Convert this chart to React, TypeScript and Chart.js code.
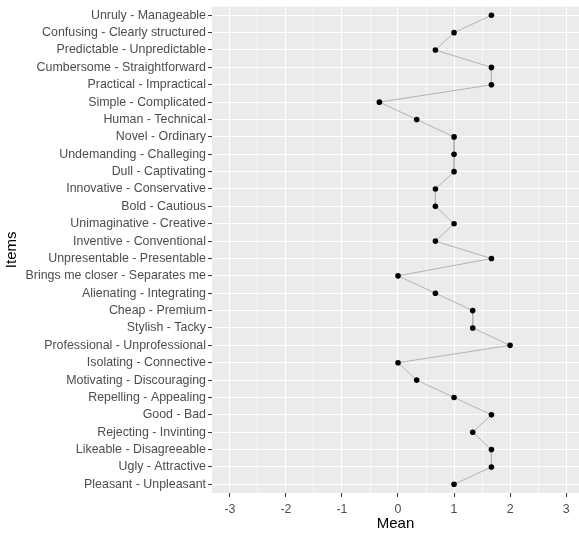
import React, { useEffect, useRef } from "react";
import { Chart, registerables } from "chart.js";

Chart.register(...registerables);

const items = [
  "Unruly - Manageable",
  "Confusing - Clearly structured",
  "Predictable - Unpredictable",
  "Cumbersome - Straightforward",
  "Practical - Impractical",
  "Simple - Complicated",
  "Human - Technical",
  "Novel - Ordinary",
  "Undemanding - Challeging",
  "Dull - Captivating",
  "Innovative - Conservative",
  "Bold - Cautious",
  "Unimaginative - Creative",
  "Inventive - Conventional",
  "Unpresentable - Presentable",
  "Brings me closer - Separates me",
  "Alienating - Integrating",
  "Cheap - Premium",
  "Stylish - Tacky",
  "Professional - Unprofessional",
  "Isolating - Connective",
  "Motivating - Discouraging",
  "Repelling - Appealing",
  "Good - Bad",
  "Rejecting - Invinting",
  "Likeable - Disagreeable",
  "Ugly - Attractive",
  "Pleasant - Unpleasant",
];

const means = [
  1.667, 1, 0.667, 1.667, 1.667, -0.333, 0.333, 1, 1, 1, 0.667, 0.667, 1, 0.667,
  1.667, 0, 0.667, 1.333, 1.333, 2, 0, 0.333, 1, 1.667, 1.333, 1.667, 1.667, 1,
];

const xTickValues = [-3, -2.5, -2, -1.5, -1, -0.5, 0, 0.5, 1, 1.5, 2, 2.5, 3];

const isInt = (v: any) => typeof v === "number" && Math.abs(v - Math.round(v)) < 1e-9;

export default function App() {
  const ref = useRef<HTMLCanvasElement>(null);

  useEffect(() => {
    if (!ref.current) return;
    const tickFont = { family: "'Liberation Sans', Arial, sans-serif", size: 12.4 };
    const titleFont = { family: "'Liberation Sans', Arial, sans-serif", size: 15 };
    const panelBg = {
      id: "panelBg",
      beforeDraw(chart: any) {
        const { ctx, chartArea: a } = chart;
        ctx.save();
        ctx.fillStyle = "#EBEBEB";
        ctx.fillRect(a.left, a.top, a.right - a.left, a.bottom - a.top);
        ctx.restore();
      },
    };
    const chart = new Chart(ref.current, {
      type: "line",
      data: {
        labels: items,
        datasets: [
          {
            data: means,
            borderColor: "#B3B3B3",
            borderWidth: 1,
            pointRadius: 2.8,
            pointHoverRadius: 2.8,
            pointBackgroundColor: "#000000",
            pointBorderWidth: 0,
            tension: 0,
            fill: false,
          },
        ],
      },
      options: {
        indexAxis: "y",
        responsive: false,
        animation: false,
        events: [],
        layout: { autoPadding: false, padding: { top: 6.6, right: 0, bottom: 0, left: 0 } },
        plugins: { legend: { display: false }, tooltip: { enabled: false } },
        scales: {
          x: {
            type: "linear",
            min: -3.32,
            max: 3.23,
            afterBuildTicks: (s: any) => {
              s.ticks = xTickValues.map((v) => ({ value: v }));
            },
            afterFit: (s: any) => {
              s.height = 40;
              s.paddingLeft = 0;
              s.paddingRight = 0;
            },
            ticks: {
              autoSkip: false,
              maxRotation: 0,
              padding: 5,
              color: "#4D4D4D",
              font: tickFont,
              callback: (v: any) => (isInt(v) ? String(v) : ""),
            },
            grid: {
              color: "#FFFFFF",
              lineWidth: (ctx: any) => (isInt(ctx.tick?.value) ? 1.1 : 0.55),
              tickColor: (ctx: any) => (isInt(ctx.tick?.value) ? "#333333" : "rgba(0,0,0,0)"),
              tickLength: 4,
              tickWidth: 1,
            },
            border: { display: false },
            title: {
              display: true,
              text: "Mean",
              color: "#000000",
              font: titleFont,
              padding: { top: 0, bottom: 0 },
            },
          },
          y: {
            type: "category",
            offset: true,
            afterFit: (s: any) => {
              s.width = 212;
              s.paddingTop = 0;
              s.paddingBottom = 0;
            },
            ticks: {
              autoSkip: false,
              padding: 2,
              color: "#4D4D4D",
              font: tickFont,
            },
            grid: {
              offset: false,
              color: "#FFFFFF",
              lineWidth: 1.1,
              tickColor: "#333333",
              tickLength: 4,
              tickWidth: 1,
            },
            border: { display: false },
            title: {
              display: true,
              text: "Items",
              color: "#000000",
              font: titleFont,
              padding: { top: 3, bottom: 0 },
            },
          },
        },
      },
      plugins: [panelBg],
    } as any);
    return () => chart.destroy();
  }, []);

  return (
    <div style={{ position: "absolute", left: 0, top: 0, width: 579, height: 533, background: "#fff" }}>
      <canvas ref={ref} width={579} height={533} style={{ display: "block" }} />
    </div>
  );
}
